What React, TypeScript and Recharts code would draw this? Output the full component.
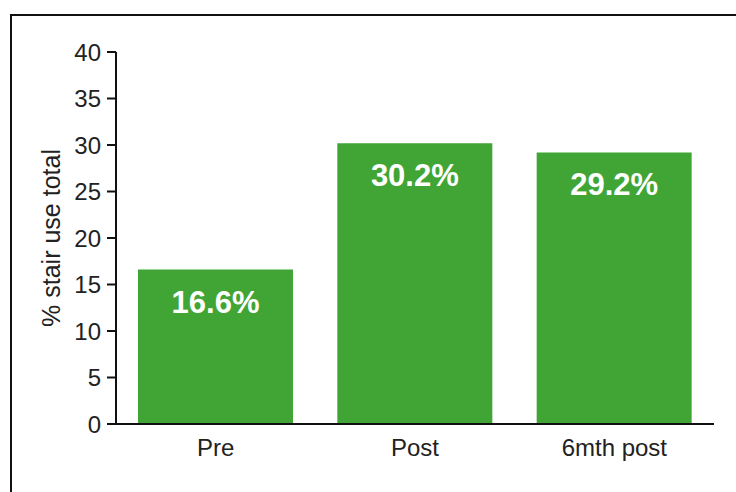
import { Bar, BarChart, LabelList, XAxis, YAxis } from "recharts";

const categories = ["Pre", "Post", "6mth post"];
const stairUse = [16.6, 30.2, 29.2];
const yTicks = [0, 5, 10, 15, 20, 25, 30, 35, 40];

const data = categories.map((name, i) => ({ name, value: stairUse[i] }));

const FONT = "'Liberation Sans', Arial, sans-serif";

export default function App() {
  return (
    <div
      style={{
        position: "fixed",
        left: 0,
        top: 0,
        width: 736,
        height: 492,
        overflow: "hidden",
        background: "#fff",
        fontFamily: FONT,
      }}
    >
      <div
        style={{
          position: "absolute",
          left: 10,
          top: 14,
          width: 900,
          height: 700,
          border: "2px solid #111",
        }}
      />
      <div style={{ position: "absolute", left: 8, top: 8 }}>
        <BarChart
          width={728}
          height={476}
          data={data}
          margin={{ top: 44, right: 22, bottom: 30, left: 0 }}
          barCategoryGap={22}
        >
          <XAxis
            dataKey="name"
            height={30}
            axisLine={{ stroke: "#111", strokeWidth: 2 }}
            tickLine={false}
            tickSize={0}
            tickMargin={15}
            tick={{ fill: "#222", fontSize: 24, fontFamily: FONT }}
          />
          <YAxis
            width={108}
            domain={[0, 40]}
            ticks={yTicks}
            interval={0}
            axisLine={{ stroke: "#111", strokeWidth: 2 }}
            tickLine={{ stroke: "#111", strokeWidth: 2 }}
            tickSize={9}
            tickMargin={6}
            tick={{ fill: "#222", fontSize: 24, fontFamily: FONT }}
            label={{
              value: "% stair use total",
              angle: -90,
              position: "insideLeft",
              dx: 38,
              style: { textAnchor: "middle", fill: "#222", fontSize: 25, fontFamily: FONT },
            }}
          />
          <Bar dataKey="value" fill="#41A535" isAnimationActive={false}>
            <LabelList
              dataKey="value"
              position="insideTop"
              offset={21}
              formatter={(v: number) => `${v}%`}
              style={{ fill: "#fff", fontSize: 31, fontWeight: 700, fontFamily: FONT }}
            />
          </Bar>
        </BarChart>
      </div>
    </div>
  );
}
